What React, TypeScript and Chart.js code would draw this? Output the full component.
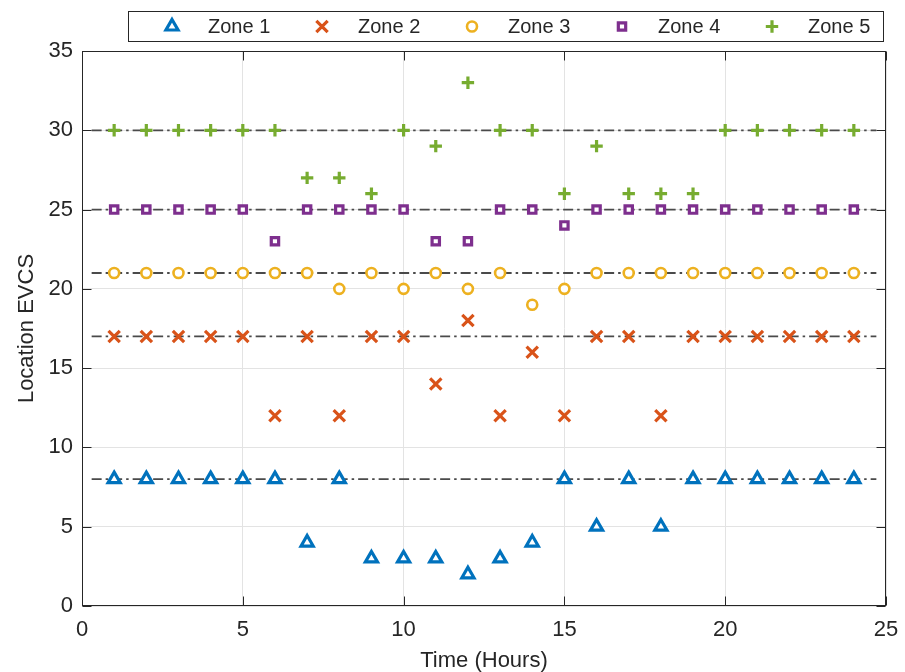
import React, { useEffect, useRef } from 'react';
import { Chart, registerables } from 'chart.js';
import { drawPoint } from 'chart.js/helpers';

Chart.register(...registerables);

// ---------- data ----------
const hours = [1, 2, 3, 4, 5, 6, 7, 8, 9, 10, 11, 12, 13, 14, 15, 16, 17, 18, 19, 20, 21, 22, 23, 24];
const zone1 = [8, 8, 8, 8, 8, 8, 4, 8, 3, 3, 3, 2, 3, 4, 8, 5, 8, 5, 8, 8, 8, 8, 8, 8];
const zone2 = [17, 17, 17, 17, 17, 12, 17, 12, 17, 17, 14, 18, 12, 16, 12, 17, 17, 12, 17, 17, 17, 17, 17, 17];
const zone3 = [21, 21, 21, 21, 21, 21, 21, 20, 21, 20, 21, 20, 21, 19, 20, 21, 21, 21, 21, 21, 21, 21, 21, 21];
const zone4 = [25, 25, 25, 25, 25, 23, 25, 25, 25, 25, 23, 23, 25, 25, 24, 25, 25, 25, 25, 25, 25, 25, 25, 25];
const zone5 = [30, 30, 30, 30, 30, 30, 27, 27, 26, 30, 29, 33, 30, 30, 26, 29, 26, 26, 26, 30, 30, 30, 30, 30];
const zoneNames = ['Zone 1', 'Zone 2', 'Zone 3', 'Zone 4', 'Zone 5'];
const refLevels = [8, 17, 21, 25, 30];
const refSpan = [0.3, 24.7];
const xTickValues = [0, 5, 10, 15, 20, 25];
const yTickValues = [0, 5, 10, 15, 20, 25, 30, 35];

const FONT = '"Liberation Sans", Arial, Helvetica, sans-serif';
const TEXT = '#262626';

const zoneStyles = [
  { color: '#0072BD', pointStyle: 'triangle', radius: 7, borderWidth: 3.2 },
  { color: '#D95319', pointStyle: 'crossRot', radius: 8, borderWidth: 3.2 },
  { color: '#EDB120', pointStyle: 'circle', radius: 5, borderWidth: 2.6 },
  { color: '#7E2F8E', pointStyle: 'rect', radius: 5.2, borderWidth: 3.2 },
  { color: '#77AC30', pointStyle: 'cross', radius: 6.2, borderWidth: 3.2 },
];

const zoneData = [zone1, zone2, zone3, zone4, zone5];

const framePlugin = {
  id: 'frameTicksLegend',
  afterDraw(chart: any) {
    const { ctx, chartArea: a, scales } = chart;
    ctx.save();
    ctx.strokeStyle = TEXT;
    ctx.lineWidth = 1;
    const L = Math.round(a.left) + 0.5;
    const R = Math.round(a.right) - 0.5;
    const T = Math.round(a.top) + 0.5;
    const B = Math.round(a.bottom) - 0.5;
    ctx.strokeRect(L, T, R - L, B - T);
    const tl = 9;
    ctx.beginPath();
    xTickValues.forEach((v) => {
      const px = Math.round(scales.x.getPixelForValue(v)) + 0.5;
      ctx.moveTo(px, B);
      ctx.lineTo(px, B - tl);
      ctx.moveTo(px, T);
      ctx.lineTo(px, T + tl);
    });
    yTickValues.forEach((v) => {
      const py = Math.round(scales.y.getPixelForValue(v)) + 0.5;
      ctx.moveTo(L, py);
      ctx.lineTo(L + tl, py);
      ctx.moveTo(R, py);
      ctx.lineTo(R - tl, py);
    });
    ctx.stroke();

    // legend
    const bx = 128.5, by = 11.5, bw = 755, bh = 30;
    ctx.fillStyle = '#ffffff';
    ctx.fillRect(bx, by, bw, bh);
    ctx.strokeRect(bx, by, bw, bh);
    const cy = by + bh / 2;
    zoneNames.forEach((name, i) => {
      const s = zoneStyles[i];
      const mx = 172 + 150 * i;
      ctx.save();
      ctx.strokeStyle = s.color;
      ctx.fillStyle = '#ffffff';
      ctx.lineWidth = s.borderWidth;
      drawPoint(ctx, { pointStyle: s.pointStyle, radius: s.radius, borderWidth: s.borderWidth, rotation: 0 } as any, mx, cy);
      ctx.restore();
      ctx.fillStyle = TEXT;
      ctx.font = `20px ${FONT}`;
      ctx.textAlign = 'left';
      ctx.textBaseline = 'middle';
      ctx.fillText(name, 208 + 150 * i, cy + 1);
    });
    ctx.restore();
  },
};

export default function App() {
  const ref = useRef<HTMLCanvasElement | null>(null);

  useEffect(() => {
    document.body.style.margin = '0';
    if (!ref.current) return;

    const refDatasets = refLevels.map((lv) => ({
      label: '',
      data: refSpan.map((x) => ({ x, y: lv })),
      showLine: true,
      borderColor: '#4a4a4a',
      borderWidth: 1.8,
      borderDash: [10, 4, 2.5, 4],
      pointRadius: 0,
      order: 10,
    }));

    const zoneDatasets = zoneNames.map((name, i) => ({
      label: name,
      data: hours.map((h, j) => ({ x: h, y: zoneData[i][j] })),
      showLine: false,
      pointStyle: zoneStyles[i].pointStyle,
      pointRadius: zoneStyles[i].radius,
      pointHoverRadius: zoneStyles[i].radius,
      pointBorderWidth: zoneStyles[i].borderWidth,
      borderColor: zoneStyles[i].color,
      backgroundColor: '#ffffff',
      order: 0,
    }));

    const chart = new Chart(ref.current, {
      type: 'scatter',
      data: { datasets: [...zoneDatasets, ...refDatasets] as any },
      plugins: [framePlugin],
      options: {
        animation: false,
        responsive: false,
        devicePixelRatio: 1,
        layout: { padding: { top: 51, right: 19, left: 0, bottom: 0 } },
        plugins: { legend: { display: false }, tooltip: { enabled: false } },
        scales: {
          x: {
            type: 'linear',
            min: 0,
            max: 25,
            afterBuildTicks: (scale: any) => {
              scale.ticks = xTickValues.map((v) => ({ value: v }));
            },
            afterFit: (scale: any) => {
              scale.height = 66;
              scale.paddingRight = 0;
              scale.paddingLeft = 0;
            },
            grid: { color: '#e3e3e3', lineWidth: 1, drawTicks: false },
            border: { display: false },
            ticks: { color: TEXT, font: { family: FONT, size: 22 }, padding: 11, maxRotation: 0 },
            title: {
              display: true,
              text: 'Time (Hours)',
              color: TEXT,
              font: { family: FONT, size: 22, lineHeight: 1 },
              padding: { top: 0, bottom: 0 },
            },
          },
          y: {
            type: 'linear',
            min: 0,
            max: 35,
            afterBuildTicks: (scale: any) => {
              scale.ticks = yTickValues.map((v) => ({ value: v }));
            },
            afterFit: (scale: any) => {
              scale.width = 82;
              scale.paddingTop = 0;
              scale.paddingBottom = 0;
            },
            grid: { color: '#e3e3e3', lineWidth: 1, drawTicks: false },
            border: { display: false },
            ticks: { color: TEXT, font: { family: FONT, size: 22 }, padding: 9 },
            title: {
              display: true,
              text: 'Location EVCS',
              color: TEXT,
              font: { family: FONT, size: 22, lineHeight: 1 },
              padding: { top: 16, bottom: 16 },
            },
          },
        },
      } as any,
    });
    return () => chart.destroy();
  }, []);

  return (
    <div style={{ width: 905, height: 672 }}>
      <canvas ref={ref} width={905} height={672} style={{ display: 'block' }} />
    </div>
  );
}
